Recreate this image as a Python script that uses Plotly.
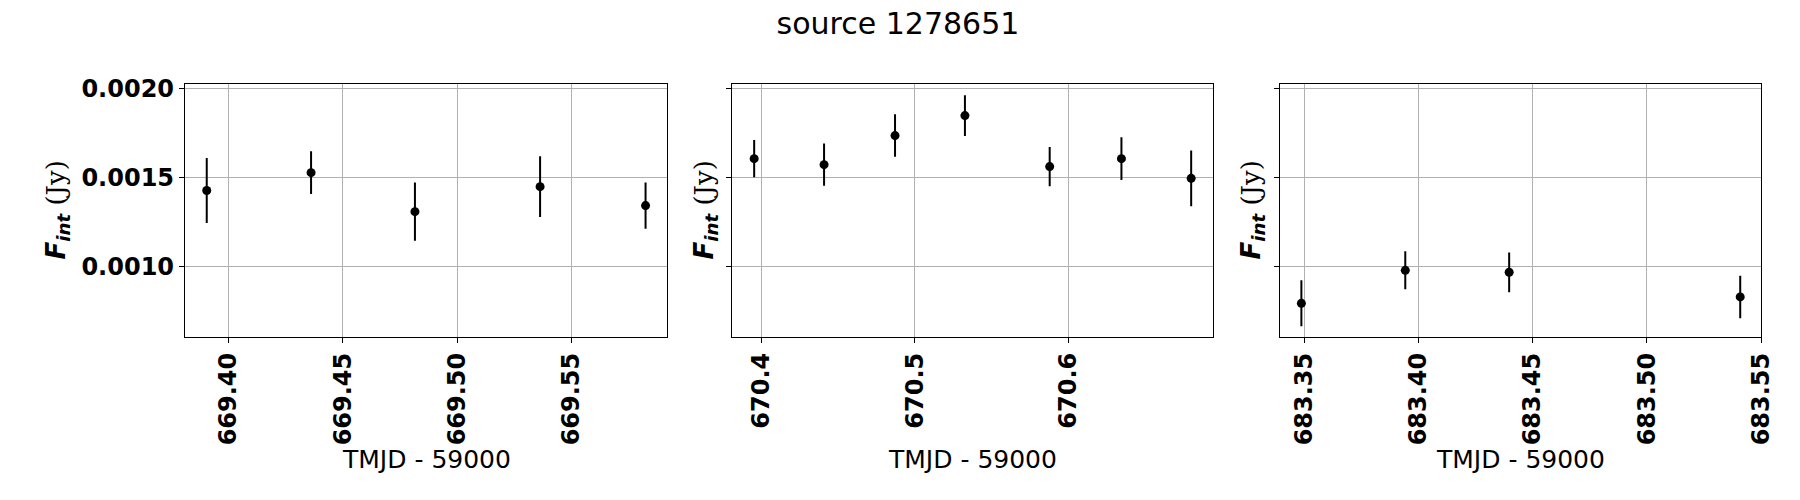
import plotly.graph_objects as go
from plotly.subplots import make_subplots

# TMJD - 59000, integrated flux (Jy) and 1-sigma errors for each night
t_night1 = [669.3905, 669.4361, 669.4815, 669.5362, 669.5823]
f_night1 = [0.001427, 0.001528, 0.001308, 0.001449, 0.001342]
e_night1 = [0.000183, 0.000121, 0.000164, 0.000171, 0.000130]

t_night2 = [670.3951, 670.4407, 670.4870, 670.5326, 670.5879, 670.6347, 670.6802]
f_night2 = [0.001607, 0.001573, 0.001737, 0.001850, 0.001562, 0.001607, 0.001496]
e_night2 = [0.000105, 0.000119, 0.000120, 0.000115, 0.000111, 0.000121, 0.000157]

t_night3 = [683.3487, 683.3942, 683.4397, 683.5409]
f_night3 = [0.000791, 0.000977, 0.000966, 0.000827]
e_night3 = [0.000130, 0.000107, 0.000112, 0.000120]

x_ranges = [(669.381, 669.5918), (670.3809, 670.6947), (683.3392, 683.55)]
x_dticks = [0.05, 0.1, 0.05]
x_formats = [".2f", ".1f", ".2f"]
y_ticks = [0.0010, 0.0015, 0.0020]
y_range = (0.000601, 0.002028)

W, H = 1800, 500
FONT = "DejaVu Sans"

# panel boxes in pixels (left, right), shared top/bottom
panels_px = [(185.0, 667.3), (732.4, 1213.4), (1279.7, 1761.0)]
top_px, bottom_px = 84.0, 337.0
ylabel_px = [57, 705, 1252]

fig = make_subplots(rows=1, cols=3)

nights = [(t_night1, f_night1, e_night1),
          (t_night2, f_night2, e_night2),
          (t_night3, f_night3, e_night3)]

for i, (t, f, e) in enumerate(nights):
    col = i + 1
    fig.add_trace(go.Scatter(
        x=t, y=f, mode="markers",
        marker=dict(color="black", size=9),
        error_y=dict(type="data", array=e, visible=True,
                     color="black", thickness=2, width=0),
        showlegend=False,
    ), row=1, col=col)

    left, right = panels_px[i]
    fig.update_xaxes(
        domain=[left / W, right / W],
        range=list(x_ranges[i]),
        dtick=x_dticks[i], tick0=0, tickformat=x_formats[i],
        tickangle=-90,
        ticks="outside", ticklen=5, tickcolor="black",
        tickfont=dict(family=FONT, size=24, color="black", weight="bold"),
        showgrid=True, gridcolor="#b0b0b0", gridwidth=1,
        showline=True, linecolor="black", linewidth=1.3, mirror=True,
        zeroline=False, automargin=False,
        row=1, col=col,
    )
    fig.update_yaxes(
        domain=[1 - bottom_px / H, 1 - top_px / H],
        range=list(y_range),
        tickvals=y_ticks, tickformat=".4f",
        showticklabels=(i == 0),
        ticks="outside", ticklen=5, tickcolor="black",
        tickfont=dict(family=FONT, size=24, color="black", weight="bold"),
        showgrid=True, gridcolor="#b0b0b0", gridwidth=1,
        showline=True, linecolor="black", linewidth=1.3, mirror=True,
        zeroline=False, automargin=False,
        row=1, col=col,
    )

    fig.add_annotation(
        text="TMJD - 59000",
        x=(left + right) / 2 / W, y=1 - 459 / H,
        xref="paper", yref="paper", xanchor="center", yanchor="middle",
        showarrow=False, font=dict(family=FONT, size=25, color="black"),
    )
    fig.add_annotation(
        text=("<b><i>F</i></b><sub><b><i>int</i></b></sub> "
              "<span style='font-family:DejaVu Serif'>(Jy)</span>"),
        x=ylabel_px[i] / W, y=1 - (top_px + bottom_px) / 2 / H,
        xref="paper", yref="paper", xanchor="center", yanchor="middle",
        textangle=-90,
        showarrow=False, font=dict(family=FONT, size=26, color="black"),
    )

fig.update_layout(
    width=W, height=H,
    margin=dict(l=0, r=0, t=0, b=0),
    paper_bgcolor="white", plot_bgcolor="white",
    title=dict(text="source 1278651", x=898 / W, y=1 - 23 / H,
               xanchor="center", yanchor="middle",
               font=dict(family=FONT, size=30, color="black")),
)

# drop the browser's default body margin so the figure sits at (0, 0)
page_js = ("document.body.style.margin = '0';"
           "document.body.style.overflow = 'hidden';")
fig.write_html("out.html", config={"displayModeBar": False},
               post_script=page_js)
